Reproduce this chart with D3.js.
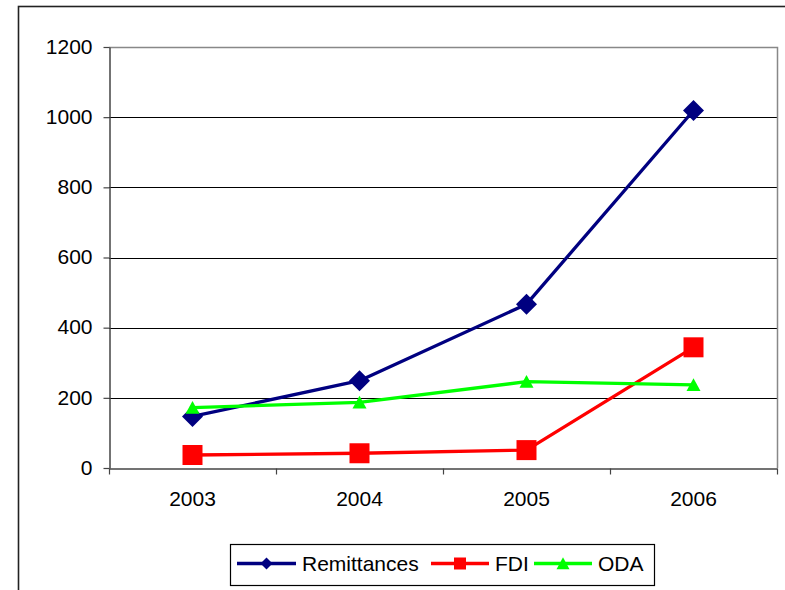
<!DOCTYPE html>
<html>
<head>
<meta charset="utf-8">
<script src="https://cdn.jsdelivr.net/npm/d3@7"></script>
<style>
  html, body { margin: 0; padding: 0; background: #fff; }
  svg { display: block; }
  text { font-family: "Liberation Sans", Arial, Helvetica, sans-serif; fill: #000; }
</style>
</head>
<body>
<svg id="chart" width="785" height="590"></svg>
<script>
// Financial flows by year
const years = ["2003", "2004", "2005", "2006"];
const remittances = [147, 249, 467, 1019];
const fdi = [37, 42, 51, 344];
const oda = [172, 187, 246, 237];
const yTicks = [0, 200, 400, 600, 800, 1000, 1200];

const series = [
  { name: "Remittances", values: remittances, color: "#000080", marker: "diamond" },
  { name: "FDI", values: fdi, color: "#FF0000", marker: "square" },
  { name: "ODA", values: oda, color: "#00FF00", marker: "triangle" }
];

const svg = d3.select("#chart");
const plot = { left: 109, right: 777, top: 47, bottom: 468 };

// Outer chart frame (runs past the right and bottom edges of the page)
svg.append("rect")
  .attr("x", 18.5).attr("y", 6.5)
  .attr("width", 820).attr("height", 620)
  .attr("fill", "#fff").attr("stroke", "#222").attr("stroke-width", 1.6);

const x = d3.scaleBand().domain(years).range([plot.left, plot.right]).padding(0);
const y = d3.scaleLinear().domain([0, 1200]).range([plot.bottom, plot.top]);

// Gridlines
svg.append("g")
  .selectAll("line")
  .data(yTicks.filter(t => t > 0 && t < 1200))
  .join("line")
  .attr("x1", plot.left).attr("x2", plot.right)
  .attr("y1", d => Math.round(y(d)) + 0.5).attr("y2", d => Math.round(y(d)) + 0.5)
  .attr("stroke", "#000").attr("stroke-width", 1);

// Plot area border (top and right)
svg.append("path")
  .attr("d", `M${plot.left},${Math.round(y(1200)) + 0.5}H${plot.right + 0.5}V${plot.bottom}`)
  .attr("fill", "none").attr("stroke", "#888").attr("stroke-width", 1.5);

// Y axis
const yAxis = svg.append("g")
  .attr("transform", `translate(${plot.left + 0.5},0)`)
  .call(d3.axisLeft(y).tickValues(yTicks).tickFormat(d3.format("d"))
    .tickSize(6).tickPadding(11).tickSizeOuter(0));
yAxis.select(".domain").attr("stroke", "#444").attr("stroke-width", 1.5);
yAxis.selectAll(".tick line").attr("stroke", "#444").attr("stroke-width", 1.2);
yAxis.selectAll(".tick text")
  .style("font-family", '"Liberation Sans", Arial, sans-serif')
  .style("font-size", "21px").attr("fill", "#000").attr("dy", "0.3em");

// X axis: category labels with ticks on category boundaries
const xAxis = svg.append("g")
  .attr("transform", `translate(0,${plot.bottom + 0.5})`)
  .call(d3.axisBottom(x).tickSize(0).tickPadding(23).tickSizeOuter(0));
xAxis.select(".domain").attr("stroke", "#444").attr("stroke-width", 1.5);
xAxis.selectAll(".tick text")
  .style("font-family", '"Liberation Sans", Arial, sans-serif')
  .style("font-size", "21px").attr("fill", "#000");
const bounds = years.map(d => x(d)).concat([x(years[years.length - 1]) + x.bandwidth()]);
xAxis.selectAll(".bound")
  .data(bounds)
  .join("line")
  .attr("class", "bound")
  .attr("x1", d => Math.round(d) + 0.5).attr("x2", d => Math.round(d) + 0.5)
  .attr("y1", 0).attr("y2", 6)
  .attr("stroke", "#444").attr("stroke-width", 1.2);

// Marker shapes
function markerPath(type, s) {
  if (type === "diamond") return `M0,${-s}L${s},0L0,${s}L${-s},0Z`;
  if (type === "square") return `M${-s},${-s}H${s}V${s}H${-s}Z`;
  const h = s * 1.75;
  return `M0,${-h / 2 - 0.5}L${s},${h / 2}L${-s},${h / 2}Z`;
}
const markerSize = { diamond: 10.5, square: 10, triangle: 7 };

const line = d3.line()
  .x((d, i) => x(years[i]) + x.bandwidth() / 2)
  .y(d => y(d));

series.forEach(s => {
  const g = svg.append("g");
  g.append("path")
    .datum(s.values)
    .attr("d", line)
    .attr("fill", "none")
    .attr("stroke", s.color)
    .attr("stroke-width", 3.3)
    .attr("stroke-linejoin", "round");
  g.selectAll("path.m")
    .data(s.values)
    .join("path")
    .attr("class", "m")
    .attr("transform", (d, i) => `translate(${x(years[i]) + x.bandwidth() / 2},${y(d)})`)
    .attr("d", markerPath(s.marker, markerSize[s.marker]))
    .attr("fill", s.color);
});

// Legend
const legend = svg.append("g");
legend.append("rect")
  .attr("x", 230.5).attr("y", 544.5).attr("width", 424).attr("height", 41)
  .attr("fill", "#fff").attr("stroke", "#000").attr("stroke-width", 1.2);
const legendItems = [
  { s: series[0], x0: 237, x1: 296, tx: 302 },
  { s: series[1], x0: 431, x1: 489, tx: 495 },
  { s: series[2], x0: 534, x1: 592, tx: 598 }
];
const legendSize = { diamond: 6, square: 6, triangle: 6.5 };
legendItems.forEach(it => {
  const ly = 563.5;
  legend.append("line")
    .attr("x1", it.x0).attr("x2", it.x1).attr("y1", ly).attr("y2", ly)
    .attr("stroke", it.s.color).attr("stroke-width", 3.3);
  legend.append("path")
    .attr("transform", `translate(${(it.x0 + it.x1) / 2},${ly})`)
    .attr("d", markerPath(it.s.marker, legendSize[it.s.marker]))
    .attr("fill", it.s.color);
  legend.append("text")
    .attr("x", it.tx).attr("y", 571)
    .style("font-size", "21px")
    .text(it.s.name);
});
</script>
</body>
</html>
